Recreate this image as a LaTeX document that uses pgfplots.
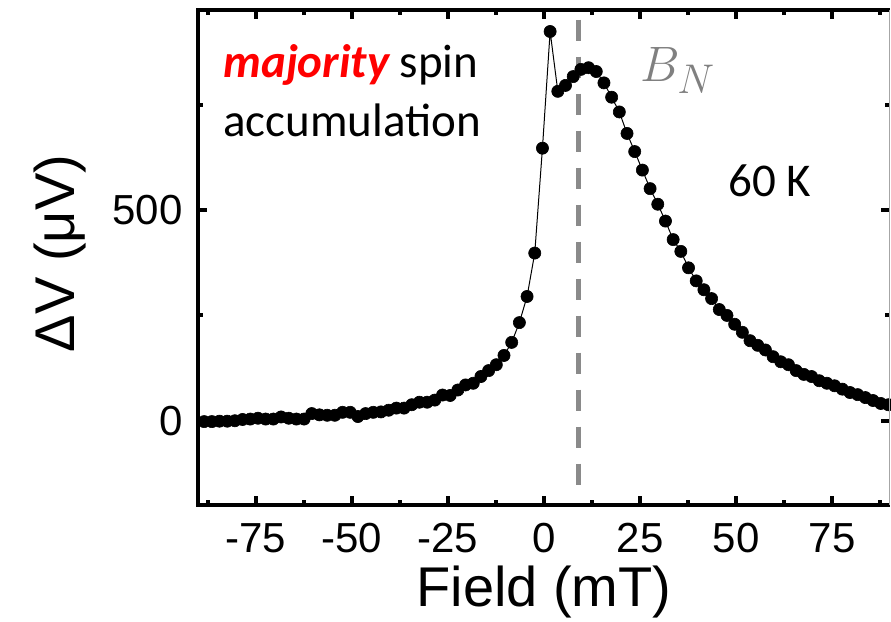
\documentclass[border=0pt]{standalone}
\usepackage{pgfplots}
\pgfplotsset{compat=1.18}
\usepackage{fontspec}
\setmainfont{Liberation Sans}
\newfontfamily\carlito{Carlito}
\definecolor{bngray}{RGB}{128,128,128}
\definecolor{dashgray}{RGB}{138,138,138}
\pgfplotstableread{
x y
-88.4 -2
-86.4 -2
-84.4 -1
-82.4 -1
-80.4 0
-78.4 3
-76.4 4
-74.4 6
-72.4 4
-70.4 4
-68.4 9
-66.4 6
-64.4 4
-62.4 4
-60.4 17
-58.4 14
-56.4 13
-54.4 13
-52.4 20
-50.4 20
-48.4 10
-46.4 17
-44.4 20
-42.4 21
-40.4 25
-38.4 30
-36.4 30
-34.4 38
-32.4 44
-30.4 44
-28.4 49
-26.4 61
-24.4 60
-22.4 73
-20.4 85
-18.4 89
-16.4 105
-14.4 119
-12.4 133
-10.4 155
-8.4 186
-6.4 233
-4.4 295
-2.4 398
-0.4 647
1.6 924
3.6 782
5.6 796
7.6 817
9.6 834
11.6 838
13.6 829
15.6 802
17.6 768
19.6 733
21.6 682
23.6 639
25.6 595
27.6 551
29.6 514
31.6 474
33.6 430
35.6 402
37.6 363
39.6 332
41.6 311
43.6 290
45.6 264
47.6 250
49.6 229
51.6 210
53.6 190
55.6 179
57.6 168
59.6 152
61.6 140
63.6 133
65.6 119
67.6 110
69.6 105
71.6 95
73.6 89
75.6 83
77.6 75
79.6 67
81.6 62
83.6 55
85.6 48
87.6 41
89.6 38
}\datatable
\begin{document}
\begin{tikzpicture}
\begin{axis}[name=ax, scale only axis, width=346pt, height=247.5pt,
  xmin=-90, xmax=90, ymin=-200, ymax=975,
  axis line style={draw=none},
  xtick={-75,-50,-25,0,25,50,75},
  minor xtick={-87.5,-62.5,-37.5,-12.5,12.5,37.5,62.5,87.5},
  ytick={0,500}, minor ytick={250,750},
  tick align=inside,
  major tick length=4.5pt, minor tick length=2.5pt,
  every tick/.append style={black, line width=2pt},
  /pgf/number format/assume math mode=true,
  ticklabel style={font=\fontsize{21}{25}\selectfont},
  xticklabel style={anchor=north, inner sep=0pt, yshift=-9pt},
  yticklabel style={anchor=east, inner sep=0pt, xshift=-7.5pt},
  xlabel={Field (mT)}, ylabel={ΔV (μV)},
  every axis x label/.style={at={(axis description cs:0.5,-0.206)}, anchor=base, font=\fontsize{28}{32}\selectfont},
  every axis y label/.style={at={(axis description cs:-0.178,0.508)}, rotate=90, anchor=base, font=\fontsize{28}{32}\selectfont},
]
\addplot[black, line width=0.5pt, mark=*, mark size=3.05pt, mark options={fill=black, draw=black, line width=0.3pt}] table[x=x,y=y] {\datatable};
\addplot[dashgray, line width=2.5pt, dash pattern=on 10.5pt off 8pt] coordinates {(8.9,952) (8.9,-179)};
\end{axis}
\draw[line width=2.4pt, line join=miter, black] (ax.south east) -- (ax.south west) -- (ax.north west) -- (ax.north east);
\draw[line width=0.5pt, black!35] (ax.south east) -- (ax.north east);
\node[anchor=base west, inner sep=0pt, font=\carlito\fontsize{23.5}{28}\selectfont] at (12.5pt,213.5pt) {\textcolor{red}{\bfseries\itshape majority} spin};
\node[anchor=base west, inner sep=0pt, font=\carlito\fontsize{23.5}{28}\selectfont] at (12.5pt,184pt) {accumulation};
\node[anchor=base west, inner sep=0pt, font=\carlito\fontsize{23.5}{28}\selectfont] at (265pt,154pt) {60 K};
\node[anchor=base west, inner sep=0pt, text=bngray, font=\fontsize{30}{34}\selectfont] at (221pt,211.5pt) {$B_N$};
\pgfresetboundingbox
\useasboundingbox (-99pt,-58.5pt) rectangle (346.5pt,252.5pt);
\end{tikzpicture}
\end{document}
